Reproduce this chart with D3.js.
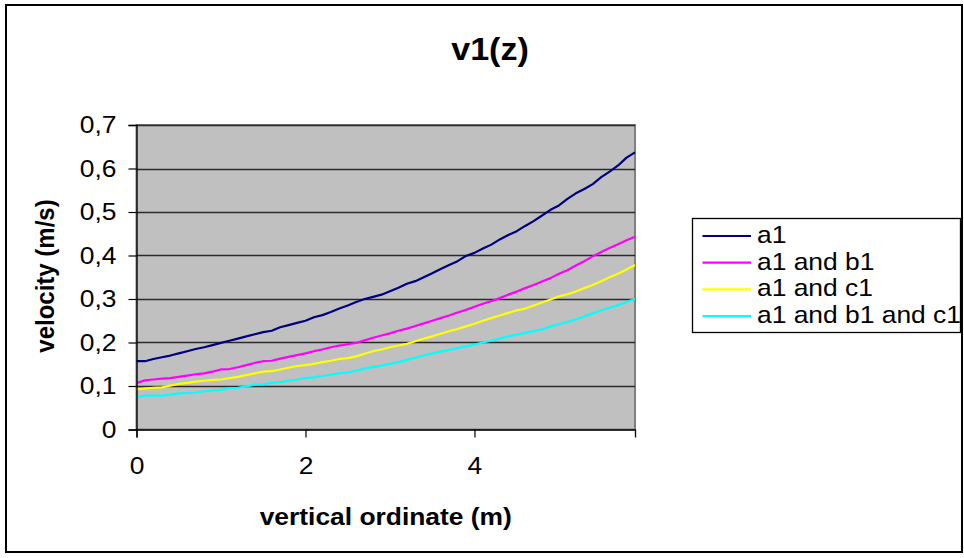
<!DOCTYPE html>
<html>
<head>
<meta charset="utf-8">
<script src="https://cdn.jsdelivr.net/npm/d3@7"></script>
<style>
  body { margin: 0; background: #fff; }
  svg { display: block; }
  text { font-family: "Liberation Sans", Arial, sans-serif; fill: #000; }
</style>
</head>
<body>
<svg id="chart" width="964" height="558"></svg>
<script>
// Vertical ordinate z (m)
const depth = [
  0.0, 0.1, 0.2, 0.3, 0.4, 0.5, 0.6, 0.7, 0.8, 0.9,
  1.0, 1.1, 1.2, 1.3, 1.4, 1.5, 1.6, 1.7, 1.8, 1.9,
  2.0, 2.1, 2.2, 2.3, 2.4, 2.5, 2.6, 2.7, 2.8, 2.9,
  3.0, 3.1, 3.2, 3.3, 3.4, 3.5, 3.6, 3.7, 3.8, 3.9,
  4.0, 4.1, 4.2, 4.3, 4.4, 4.5, 4.6, 4.7, 4.8, 4.9,
  5.0, 5.1, 5.2, 5.3, 5.4, 5.5, 5.6, 5.7, 5.8, 5.9
];

// Velocity v1 (m/s) for each case
const a1 = [
  0.157, 0.157, 0.162, 0.166, 0.170, 0.175, 0.180, 0.185, 0.189, 0.194,
  0.199, 0.204, 0.209, 0.214, 0.219, 0.224, 0.227, 0.235, 0.240, 0.245,
  0.250, 0.258, 0.263, 0.270, 0.278, 0.285, 0.293, 0.300, 0.305, 0.310,
  0.318, 0.326, 0.335, 0.341, 0.350, 0.359, 0.369, 0.378, 0.387, 0.399,
  0.406, 0.416, 0.425, 0.437, 0.447, 0.456, 0.468, 0.479, 0.492, 0.505,
  0.515, 0.530, 0.543, 0.553, 0.564, 0.580, 0.593, 0.607, 0.625, 0.637
];
const a1b1 = [
  0.107, 0.113, 0.115, 0.117, 0.118, 0.121, 0.124, 0.127, 0.129, 0.133,
  0.138, 0.139, 0.143, 0.148, 0.153, 0.157, 0.158, 0.163, 0.167, 0.171,
  0.175, 0.180, 0.184, 0.189, 0.193, 0.196, 0.199, 0.205, 0.211, 0.216,
  0.221, 0.227, 0.232, 0.238, 0.244, 0.250, 0.256, 0.262, 0.269, 0.275,
  0.282, 0.289, 0.295, 0.302, 0.310, 0.317, 0.325, 0.332, 0.340, 0.348,
  0.358, 0.366, 0.377, 0.387, 0.398, 0.408, 0.417, 0.426, 0.435, 0.443
];
const a1c1 = [
  0.092, 0.094, 0.096, 0.097, 0.101, 0.105, 0.107, 0.110, 0.112, 0.114,
  0.115, 0.118, 0.121, 0.125, 0.129, 0.133, 0.134, 0.138, 0.142, 0.146,
  0.148, 0.151, 0.155, 0.158, 0.162, 0.164, 0.168, 0.174, 0.180, 0.184,
  0.189, 0.193, 0.197, 0.203, 0.209, 0.214, 0.220, 0.226, 0.231, 0.237,
  0.243, 0.250, 0.256, 0.262, 0.268, 0.274, 0.278, 0.285, 0.292, 0.299,
  0.306, 0.311, 0.317, 0.325, 0.332, 0.341, 0.350, 0.358, 0.368, 0.378
];
const a1b1c1 = [
  0.074, 0.078, 0.078, 0.078, 0.080, 0.083, 0.084, 0.085, 0.088, 0.090,
  0.091, 0.095, 0.096, 0.099, 0.103, 0.104, 0.107, 0.109, 0.112, 0.115,
  0.118, 0.120, 0.123, 0.126, 0.129, 0.131, 0.135, 0.140, 0.144, 0.147,
  0.151, 0.155, 0.160, 0.165, 0.170, 0.175, 0.179, 0.183, 0.187, 0.191,
  0.195, 0.200, 0.204, 0.209, 0.214, 0.218, 0.222, 0.226, 0.230, 0.237,
  0.242, 0.247, 0.253, 0.260, 0.267, 0.274, 0.280, 0.286, 0.293, 0.300
];

const seriesNames = ["a1", "a1 and b1", "a1 and c1", "a1 and b1 and c1"];
const yTicks = [0, 0.1, 0.2, 0.3, 0.4, 0.5, 0.6, 0.7];
const xTicks = [0, 2, 4];

// ---- drawing ----
const seriesValues = [a1, a1b1, a1c1, a1b1c1];
const seriesColors = ["#000080", "#ff00ff", "#ffff00", "#00ffff"];
const SX = 1.1;          // horizontal widening of the lettering
const FONT = 24;

const svg = d3.select("#chart");
const plot = { left: 136.5, right: 635, top: 125, bottom: 429.5 };

const x = d3.scaleLinear().domain([0, 5.9]).range([plot.left, plot.right]);
const y = d3.scaleLinear().domain([0, 0.7]).range([plot.bottom, plot.top]);

// widen a text element around its own anchor x
function widen(sel) {
  sel.each(function () {
    const t = d3.select(this);
    const ax = +t.attr("x") || 0;
    t.attr("transform", `translate(${ax},0) scale(${SX},1) translate(${-ax},0)`);
  });
}

// outer frame
svg.append("rect")
  .attr("x", 6).attr("y", 5).attr("width", 956).attr("height", 547)
  .attr("fill", "#fff").attr("stroke", "#000").attr("stroke-width", 2);

// plot background
svg.append("rect")
  .attr("x", plot.left).attr("y", plot.top)
  .attr("width", plot.right - plot.left).attr("height", plot.bottom - plot.top)
  .attr("fill", "#c0c0c0").attr("stroke", "#808080").attr("stroke-width", 2);

// horizontal gridlines
svg.append("g")
  .selectAll("line")
  .data(yTicks.filter(d => d > 0))
  .join("line")
  .attr("x1", plot.left).attr("x2", plot.right)
  .attr("y1", d => Math.round(y(d)) + 0.5).attr("y2", d => Math.round(y(d)) + 0.5)
  .attr("stroke", "#2a2a2a").attr("stroke-width", 1.3);

// series lines
const line = d3.line()
  .x((d, i) => x(depth[i]))
  .y(d => y(d));

svg.append("g")
  .selectAll("path")
  .data(seriesValues)
  .join("path")
  .attr("d", d => line(d))
  .attr("fill", "none")
  .attr("stroke", (d, i) => seriesColors[i])
  .attr("stroke-width", 2.2)
  .attr("stroke-linejoin", "round");

// y axis
const yAxis = svg.append("g")
  .attr("transform", `translate(${plot.left},0)`)
  .call(d3.axisLeft(y)
    .tickValues(yTicks)
    .tickSize(8)
    .tickPadding(12)
    .tickFormat(d => d === 0 ? "0" : d3.format(".1f")(d).replace(".", ",")));
yAxis.select(".domain").attr("stroke", "#000").attr("stroke-width", 1.3);
yAxis.selectAll(".tick line").attr("stroke", "#000").attr("stroke-width", 1.2);
yAxis.selectAll(".tick text")
  .attr("font-size", FONT)
  .attr("font-family", "'Liberation Sans', Arial, sans-serif")
  .call(widen);

// x axis
const xAxis = svg.append("g")
  .attr("transform", `translate(0,${plot.bottom})`)
  .call(d3.axisBottom(x)
    .tickValues(xTicks)
    .tickSize(8)
    .tickPadding(19)
    .tickFormat(d3.format("d")));
xAxis.select(".domain").attr("stroke", "#000").attr("stroke-width", 1.3);
xAxis.selectAll(".tick line").attr("stroke", "#000").attr("stroke-width", 1.2);
xAxis.selectAll(".tick text")
  .attr("font-size", FONT)
  .attr("font-family", "'Liberation Sans', Arial, sans-serif")
  .call(widen);

// title
svg.append("text")
  .attr("transform", `translate(490,60) scale(${SX},1)`)
  .attr("text-anchor", "middle")
  .attr("font-size", 31)
  .attr("font-weight", "bold")
  .text("v1(z)");

// axis titles
svg.append("text")
  .attr("transform", `translate(${(plot.left + plot.right) / 2},525) scale(${SX},1)`)
  .attr("text-anchor", "middle")
  .attr("font-size", FONT)
  .attr("font-weight", "bold")
  .text("vertical ordinate (m)");

svg.append("text")
  .attr("transform", `translate(54,276) scale(${SX},1) rotate(-90)`)
  .attr("text-anchor", "middle")
  .attr("font-size", FONT)
  .attr("font-weight", "bold")
  .text("velocity (m/s)");

// legend
const legend = svg.append("g");
const legendTop = 236, legendStep = 26.7;
legend.append("rect")
  .attr("x", 692.5).attr("y", 218.5)
  .attr("width", 268).attr("height", 114)
  .attr("fill", "#fff").attr("stroke", "#000").attr("stroke-width", 1.3);

const items = legend.selectAll("g.item")
  .data(seriesNames)
  .join("g")
  .attr("class", "item")
  .attr("transform", (d, i) => `translate(0,${legendTop + i * legendStep})`);

items.append("line")
  .attr("x1", 702.5).attr("x2", 751)
  .attr("y1", 0).attr("y2", 0)
  .attr("stroke", (d, i) => seriesColors[i])
  .attr("stroke-width", 2.2);

items.append("text")
  .attr("transform", `translate(757,7) scale(${SX},1)`)
  .attr("font-size", FONT)
  .text(d => d);
</script>
</body>
</html>
